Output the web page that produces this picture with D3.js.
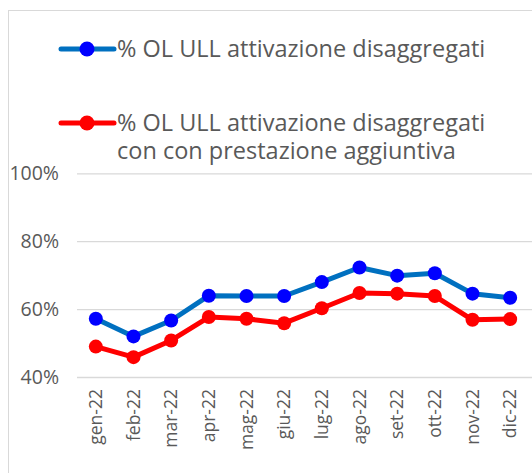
<!DOCTYPE html>
<html lang="it">
<head>
  <meta charset="UTF-8">
  <title>% OL ULL attivazione disaggregati</title>
  <script src="https://d3js.org/d3.v7.min.js"></script>
</head>
<body style="margin: 0; overflow: hidden; background: #fff;">

<script>
  // chart data
  const months = ['gen-22', 'feb-22', 'mar-22', 'apr-22', 'mag-22', 'giu-22',
                  'lug-22', 'ago-22', 'set-22', 'ott-22', 'nov-22', 'dic-22'];
  const disaggregati = [57.3, 52.1, 56.8, 64.1, 64.0, 64.0, 68.1, 72.4, 70.0, 70.7, 64.7, 63.5];
  const conPrestazione = [49.1, 46.0, 50.9, 57.8, 57.3, 56.0, 60.4, 64.9, 64.7, 64.0, 57.0, 57.2];
  const yTicks = [40, 60, 80, 100];
  const legendLabels = [
    ['% OL ULL attivazione disaggregati'],
    ['% OL ULL attivazione disaggregati', 'con con prestazione aggiuntiva']
  ];

  const width = 532, height = 473;
  const font = '"Open Sans", sans-serif';
  const textColor = '#595959';

  const svg = d3.select('body').append('svg')
    .attr('width', width)
    .attr('height', height);

  // chart frame (cut by the window on the right and bottom)
  svg.append('rect')
    .attr('x', 8.5).attr('y', 10.5)
    .attr('width', 600).attr('height', 600)
    .attr('fill', 'none')
    .attr('stroke', '#d9d9d9')
    .attr('stroke-width', 1);

  const x = d3.scaleBand().domain(months).range([77, 529]);
  const y = d3.scaleLinear().domain([40, 100]).range([377.5, 173.8]);

  // gridlines
  svg.append('g')
    .selectAll('line')
    .data(yTicks)
    .join('line')
    .attr('x1', 77).attr('x2', width)
    .attr('y1', d => y(d)).attr('y2', d => y(d))
    .attr('stroke', '#d9d9d9')
    .attr('stroke-width', 1.3);

  // y labels
  svg.append('g')
    .selectAll('text')
    .data(yTicks)
    .join('text')
    .attr('x', 59)
    .attr('y', d => y(d) + 6.5)
    .attr('text-anchor', 'end')
    .attr('font-size', 19.5)
    .style('font-family', font)
    .attr('fill', textColor)
    .text(d => d + '%');

  // x labels, rotated
  svg.append('g')
    .selectAll('text')
    .data(months)
    .join('text')
    .attr('transform', d => `translate(${x(d) + x.bandwidth() / 2 + 6},389) rotate(-90)`)
    .attr('text-anchor', 'end')
    .attr('font-size', 17.5)
    .style('font-family', font)
    .attr('fill', textColor)
    .text(d => d);

  const series = [
    { values: disaggregati, line: '#0070c0', dot: '#0000ff' },
    { values: conPrestazione, line: '#ff0000', dot: '#ff0000' }
  ];

  const lineGen = d3.line()
    .x((d, i) => x(months[i]) + x.bandwidth() / 2)
    .y(d => y(d));

  // red drawn first so blue sits on top where they cross
  series.slice().reverse().forEach(s => {
    svg.append('path')
      .datum(s.values)
      .attr('d', lineGen)
      .attr('fill', 'none')
      .attr('stroke', s.line)
      .attr('stroke-width', 5)
      .attr('stroke-linejoin', 'round');

    svg.append('g')
      .selectAll('circle')
      .data(s.values)
      .join('circle')
      .attr('cx', (d, i) => x(months[i]) + x.bandwidth() / 2)
      .attr('cy', d => y(d))
      .attr('r', 7)
      .attr('fill', s.dot);
  });

  // legend
  const legendY = [49, 123];
  series.forEach((s, i) => {
    const g = svg.append('g').attr('transform', `translate(0,${legendY[i]})`);
    g.append('line')
      .attr('x1', 61).attr('x2', 114)
      .attr('stroke', s.line)
      .attr('stroke-width', 5)
      .attr('stroke-linecap', 'round');
    g.append('circle')
      .attr('cx', 87).attr('r', 7.5)
      .attr('fill', s.dot);
    g.append('text')
      .attr('x', 117)
      .attr('y', 8)
      .attr('font-size', 23.5)
      .style('font-family', font)
      .attr('fill', textColor)
      .selectAll('tspan')
      .data(legendLabels[i])
      .join('tspan')
      .attr('x', 117)
      .attr('dy', (d, j) => j === 0 ? 0 : 28)
      .text(d => d);
  });
</script>

</body>
</html>
